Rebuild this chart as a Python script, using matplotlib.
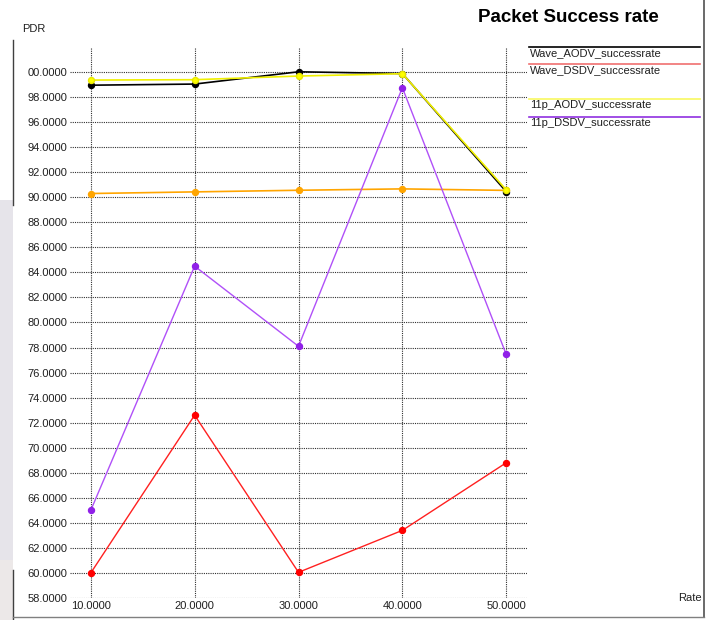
import matplotlib
matplotlib.use("Agg")
import matplotlib.pyplot as plt
from matplotlib.lines import Line2D
from matplotlib.patches import Rectangle

plt.rcParams['font.family'] = ['Liberation Sans', 'DejaVu Sans']

# Data
rate = [10, 20, 30, 40, 50]
wave_aodv = [98.95, 99.04, 100.02, 99.88, 90.45]
wave_dsdv = [60.0, 72.6, 60.05, 63.4, 68.8]
p11_aodv = [99.36, 99.39, 99.68, 99.87, 90.6]
p11_dsdv = [65.0, 84.5, 78.1, 98.75, 77.45]
extra_series = [90.3, 90.43, 90.56, 90.67, 90.55]

y_ticks = [58 + 2 * i for i in range(22)]
y_labels = [f"{v:.4f}" for v in y_ticks[:-1]] + ["00.0000"]
x_labels = [f"{v:.4f}" for v in rate]

legend_names = ["Wave_AODV_successrate", "Wave_DSDV_successrate",
                "11p_AODV_successrate", "11p_DSDV_successrate"]
legend_colors = ["#000000", "#f07070", "#f8f860", "#9030e0"]

W, H = 716, 620
fig = plt.figure(figsize=(W / 100, H / 100), dpi=100)
fig.patch.set_facecolor("white")

def fx(px):
    return px / W

def fy(py):
    return 1 - py / H

# window frame pieces
fig.patches.append(Rectangle((0, fy(560)), fx(13), fy(200) - fy(560), transform=fig.transFigure,
                             facecolor="#e6e4ea", edgecolor="none", zorder=0))
fig.patches.append(Rectangle((0, 0), fx(13), fy(560), transform=fig.transFigure,
                             facecolor="#ece8e8", edgecolor="none", zorder=0))
fig.lines.append(Line2D([fx(13), fx(13)], [fy(40), fy(205)], transform=fig.transFigure,
                        color="#404040", lw=1.0))
fig.lines.append(Line2D([fx(13), fx(13)], [fy(570), fy(620)], transform=fig.transFigure,
                        color="#404040", lw=1.0))
fig.lines.append(Line2D([fx(704), fx(704)], [fy(0), fy(617)], transform=fig.transFigure,
                        color="#505050", lw=1.2))
fig.lines.append(Line2D([fx(13), fx(704)], [fy(617), fy(617)], transform=fig.transFigure,
                        color="#808080", lw=1.0))

ax = fig.add_axes([fx(70), fy(598), fx(527) - fx(70), fy(47) - fy(598)])
ax.set_facecolor("none")
ax.set_xlim(8, 52)
ax.set_ylim(58, 102)
for s in ax.spines.values():
    s.set_visible(False)

ax.set_yticks(y_ticks)
ax.set_yticklabels(y_labels, fontsize=8, color="#202020")
ax.set_xticks(rate)
ax.set_xticklabels(x_labels, fontsize=8, color="#202020")
ax.tick_params(length=0, pad=2)

grid_kw = dict(color="#303030", lw=0.8, linestyle=(0, (1, 1)), zorder=1)
for yv in y_ticks:
    ax.axhline(yv, xmin=0, xmax=1, **grid_kw)
for xv in rate:
    ax.axvline(xv, **grid_kw)

ms = 4.3
ax.plot(rate, extra_series, color="#ffa500", lw=1.2, marker="o", ms=ms, zorder=3)
ax.plot(rate, wave_aodv, color="#000000", lw=1.2, marker="o", ms=ms, zorder=3)
ax.plot(rate, p11_aodv, color="#f0f000", lw=1.2, marker="o", ms=ms,
        mfc="#ffff00", mec="#e8e800", zorder=4)
ax.plot(rate, p11_dsdv, color="#b050f8", lw=1.0, marker="o", ms=ms,
        mfc="#9020e8", mec="#9020e8", zorder=3)
ax.plot(rate, wave_dsdv, color="#ff2020", lw=1.0, marker="o", ms=ms,
        mfc="#ff0000", mec="#ff0000", zorder=3)

# legend entries: coloured rule with the name beneath
legend_rows = [47, 64, 99, 117]
for name, col, py in zip(legend_names, legend_colors, legend_rows):
    fig.lines.append(Line2D([fx(529), fx(700)], [fy(py), fy(py)],
                            transform=fig.transFigure, color=col, lw=1.2))
    fig.text(fx(530), fy(py + 6), name, fontsize=8, color="#202020",
             ha="left", va="center")

fig.text(fx(478), fy(17), "Packet Success rate", fontsize=13.5, fontweight="bold",
         color="#000000", ha="left", va="center")
fig.text(fx(22), fy(29), "PDR", fontsize=8, color="#202020", ha="left", va="center")
fig.text(fx(678), fy(598), "Rate", fontsize=8, color="#202020", ha="left", va="center")

fig.savefig("out.png", dpi=100)
